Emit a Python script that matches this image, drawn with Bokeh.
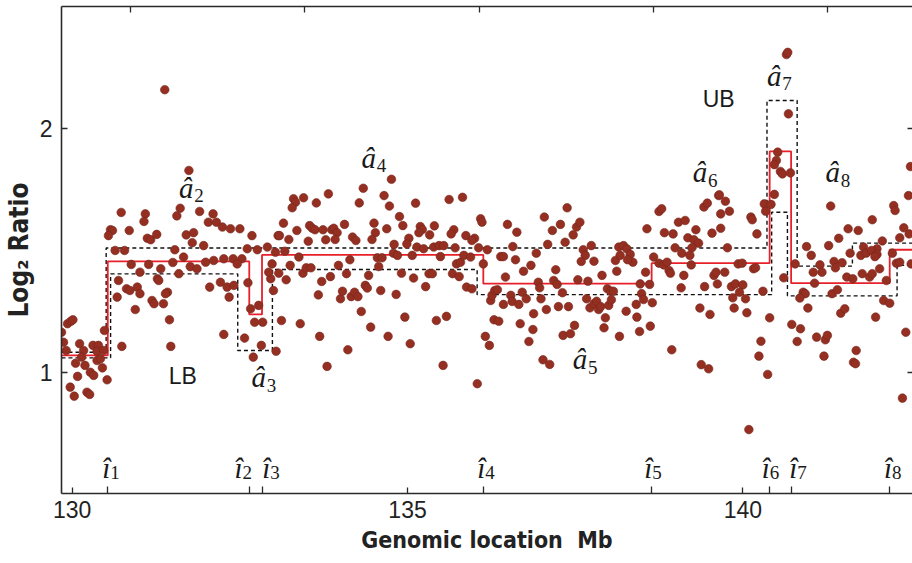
from bokeh.plotting import figure
from bokeh.models import Range1d, FixedTicker, LinearAxis, ColumnDataSource
from bokeh.core.properties import value
from bokeh.embed import file_html
from bokeh.resources import INLINE

# ---------------- data ----------------
pos_mb = [
    # 130-133 Mb, upper part
    131.38, 131.74, 130.73, 131.09, 131.07, 131.61, 131.56, 131.90, 132.10, 132.03,
    132.15, 132.24, 132.36, 132.50, 132.68, 133.07, 130.57, 130.60, 130.54, 130.85,
    131.12, 131.17, 131.26, 131.70, 131.81, 131.79, 131.96, 132.61, 132.76, 132.91,
    # 130-133 Mb, middle / lower part
    130.64, 130.78, 131.53, 130.88, 131.14, 131.50, 131.66, 131.76, 131.86, 131.99,
    132.11, 132.26, 132.40, 132.53, 132.46, 131.01, 131.32, 131.59, 130.69, 130.81,
    130.86, 130.97, 131.01, 130.67, 130.94, 131.27, 131.29, 131.42, 131.39, 131.19,
    131.22, 131.36, 132.05, 132.21, 132.31, 132.41, 132.34, 132.62, 131.45, 132.26,
    130.74, 131.47, 132.66, 132.78, 132.72, 132.84, 132.57, 132.82, 132.70, 133.04,
    132.96, 132.93, 132.98, 133.08, 133.12,
    # first segment
    129.84, 129.87, 129.93, 129.98, 130.01, 129.91, 130.05, 130.08, 129.97, 130.03,
    130.11, 130.17, 130.14, 130.19, 130.27, 130.32, 130.22, 130.26, 130.31, 130.39,
    130.37, 130.37, 130.45, 130.42, 130.48, 130.52, 130.47,
    # 133-136 Mb, upper part
    133.82, 133.30, 133.33, 133.28, 133.45, 133.64, 134.34, 134.28, 134.76, 134.65,
    134.73, 135.12, 134.88, 134.93, 133.15, 133.09, 133.23, 133.35, 133.52, 133.54,
    133.58, 133.62, 133.74, 133.78, 133.87, 133.90, 133.95, 133.92, 134.06, 134.18,
    134.23, 134.50, 134.52, 134.47, 134.69, 134.80, 135.02, 134.99, 135.19, 135.22,
    135.17, 135.33, 135.40, 135.62, 135.82, 135.69, 135.65, 135.87, 136.00, 135.96,
    136.09, 136.11, 135.14, 135.24, 135.39, 135.47, 135.54, 135.71, 136.06, 136.19,
    # 133-136.5 Mb, middle / lower part
    133.03, 133.17, 133.00, 133.19, 133.25, 133.38, 133.44, 133.49, 133.56, 133.40,
    133.67, 133.69, 133.72, 133.80, 133.85, 133.97, 134.00, 134.03, 134.09, 134.11,
    134.14, 134.16, 134.21, 134.26, 134.31, 134.37, 134.40, 134.42, 134.45, 134.55,
    134.62, 134.57, 134.60, 134.71, 134.79, 134.85, 134.83, 134.91, 134.96, 135.07,
    135.09, 135.04, 135.27, 135.32, 135.37, 135.43, 135.53, 135.58, 135.49, 135.67,
    135.73, 135.79, 135.77, 135.84, 135.94, 135.88, 135.96, 136.04, 136.16, 136.22,
    136.13, 136.24, 136.26, 136.30, 136.34, 136.29, 136.36, 136.39,
    # 136.5-139.7 Mb, upper part
    136.49, 136.63, 136.57, 137.04, 137.16, 137.28, 137.38, 137.52, 137.57, 137.47,
    137.35, 137.09, 137.74, 138.15, 138.22, 138.57, 138.75, 138.79, 138.83, 138.96,
    139.04, 139.14, 139.30, 139.18, 139.27, 139.34, 139.42, 139.47, 139.64, 139.54,
    139.67, 139.67, 138.99, 139.24,
    # 136.4-139.7 Mb, middle / lower part
    136.43, 136.61, 136.73, 136.84, 136.92, 137.21, 137.62, 137.65, 137.59, 137.78,
    138.10, 138.12, 138.17, 138.27, 138.32, 138.36, 138.28, 137.90, 137.54, 137.69,
    136.95, 136.97, 137.18, 137.23, 136.46, 136.43, 136.54, 136.56, 136.66, 136.71,
    136.77, 136.88, 136.99, 137.07, 137.31, 137.25, 137.40, 137.67, 137.72, 137.78,
    137.82, 137.85, 137.88, 137.98, 138.03, 138.07, 138.00, 138.04, 136.68, 136.87,
    136.81, 137.02, 137.12, 137.32, 137.43, 137.49, 137.95, 137.93, 138.16, 138.26,
    138.41, 138.42, 138.46, 138.49, 138.52, 138.47, 138.55, 138.61, 138.65, 138.62,
    138.67, 138.75, 138.82, 138.87, 138.90, 138.92, 138.94, 139.12, 139.08, 139.23,
    139.09, 139.21, 139.36, 139.51, 139.38, 139.49, 139.43, 139.57, 139.60, 139.62,
    # 139.6-142.5 Mb, upper part
    140.65, 140.67, 140.68, 140.52, 140.50, 140.47, 140.56, 140.59, 140.71, 140.47,
    140.32, 140.34, 140.42, 140.12, 140.14, 140.21, 139.65, 139.74, 139.80, 141.31,
    141.57, 141.72, 141.93, 142.25, 142.27, 142.40, 142.48, 142.47, 142.50, 142.34,
    141.43, 141.28, 140.95, 141.80, 142.08, 142.00,
    # 139.7-142.5 Mb, middle / lower part
    139.77, 139.93, 139.99, 140.16, 140.19, 139.73, 139.83, 139.89, 140.00, 139.95,
    139.85, 140.04, 140.30, 139.87, 140.06, 140.40, 140.27, 140.24, 140.37, 140.09,
    140.61, 140.73, 140.86, 140.81, 140.78, 140.90, 140.93, 140.85, 140.97, 141.02,
    141.07, 141.05, 141.15, 141.18, 141.10, 141.23, 141.26, 141.21, 141.36, 141.38,
    141.48, 141.33, 141.41, 141.46, 141.52, 141.55, 141.64, 141.60, 141.76, 141.84,
    141.92, 141.78, 141.89, 141.93, 141.98, 141.69, 141.65, 141.68, 142.00, 141.97,
    142.04, 142.14, 142.10, 142.19, 142.23, 142.29, 142.34, 142.43, 142.38, 142.51,
]

log2_ratio = [
    2.159, 1.828, 1.656, 1.650, 1.619, 1.673, 1.642, 1.660, 1.650, 1.616,
    1.616, 1.596, 1.589, 1.589, 1.561, 1.561, 1.585, 1.582, 1.561, 1.582,
    1.550, 1.544, 1.566, 1.564, 1.573, 1.532, 1.520, 1.507, 1.503, 1.514,
    1.500, 1.500, 1.503, 1.443, 1.443, 1.451, 1.473, 1.434, 1.425, 1.452,
    1.459, 1.466, 1.466, 1.466, 1.445, 1.411, 1.425, 1.405, 1.377, 1.343,
    1.336, 1.350, 1.323, 1.309, 1.258, 1.384, 1.377, 1.329, 1.323, 1.295,
    1.282, 1.282, 1.350, 1.370, 1.350, 1.357, 1.309, 1.368, 1.216, 1.156,
    1.107, 1.107, 1.261, 1.275, 1.206, 1.206, 1.141, 1.111, 1.063, 1.087,
    1.384, 1.411, 1.445, 1.407, 1.213,
    1.165, 1.124, 1.200, 1.210, 1.216, 1.090, 1.038, 0.984, 0.940, 0.903,
    1.118, 1.090, 1.063, 1.029, 1.001, 0.988, 0.919, 0.910, 1.111, 1.111,
    1.087, 1.049, 1.019, 1.056, 1.172, 0.970, 1.090,
    1.732, 1.712, 1.698, 1.675, 1.716, 1.695, 1.755, 1.695, 1.792, 1.725,
    1.682, 1.694, 1.639, 1.602, 1.612, 1.561, 1.545, 1.582, 1.538, 1.602,
    1.591, 1.585, 1.585, 1.544, 1.585, 1.591, 1.573, 1.545, 1.607, 1.555,
    1.541, 1.612, 1.573, 1.545, 1.589, 1.525, 1.550, 1.527, 1.598, 1.586,
    1.573, 1.564, 1.601, 1.709, 1.718, 1.585, 1.568, 1.561, 1.550, 1.541,
    1.630, 1.616, 1.514, 1.507, 1.514, 1.520, 1.520, 1.511, 1.511, 1.503,
    1.493, 1.497, 1.336, 1.380, 1.439, 1.473, 1.407, 1.429, 1.429, 1.200,
    1.318, 1.148, 1.373, 1.025, 1.393, 1.439, 1.302, 1.333, 1.405, 1.093,
    1.462, 1.311, 1.329, 1.311, 1.250, 1.357, 1.346, 1.398, 1.186, 1.470,
    1.470, 1.434, 1.336, 1.148, 1.489, 1.480, 1.320, 1.407, 1.227, 1.480,
    1.387, 1.118, 1.352, 1.405, 1.405, 1.213, 1.029, 1.230, 1.475, 1.405,
    1.445, 1.452, 1.393, 1.480, 1.473, 1.350, 1.343, 0.954, 1.148, 1.111,
    1.445, 1.295, 1.316, 1.336, 1.339, 1.216, 1.210, 1.475,
    1.607, 1.575, 1.516, 1.637, 1.582, 1.607, 1.675, 1.596, 1.616, 1.564,
    1.534, 1.525, 1.520, 1.514, 1.520, 1.589, 1.660, 1.671, 1.573, 1.568,
    1.616, 1.623, 1.585, 1.552, 1.544, 1.530, 1.678, 1.694, 1.725, 1.571,
    1.650, 1.591, 1.511, 1.511,
    1.475, 1.462, 1.415, 1.439, 1.489, 1.421, 1.503, 1.480, 1.455, 1.456,
    1.459, 1.415, 1.480, 1.507, 1.484, 1.452, 1.462, 1.398, 1.380, 1.374,
    1.370, 1.347, 1.377, 1.361, 1.391, 1.279, 1.316, 1.291, 1.279, 1.329,
    1.302, 1.241, 1.302, 1.258, 1.327, 1.270, 1.270, 1.302, 1.265, 1.282,
    1.292, 1.258, 1.270, 1.343, 1.333, 1.333, 1.275, 1.298, 1.200, 1.176,
    1.127, 1.052, 1.033, 1.152, 1.159, 1.193, 1.224, 1.183, 1.148, 1.251,
    1.279, 1.227, 1.168, 1.323, 1.299, 1.363, 1.411, 1.361, 1.286, 1.190,
    1.473, 1.448, 1.441, 1.452, 1.418, 1.407, 1.093, 1.398, 1.347, 1.441,
    1.489, 1.480, 1.264, 1.238, 1.032, 1.015, 1.352, 1.398, 1.411, 1.363,
    2.303, 2.312, 2.060, 1.903, 1.869, 1.852, 1.824, 1.814, 1.818, 1.730,
    1.691, 1.661, 1.689, 1.637, 1.626, 1.568, 1.728, 1.702, 1.661, 1.682,
    1.589, 1.582, 1.626, 1.684, 1.664, 1.593, 1.568, 1.725, 1.844, 1.552,
    1.550, 1.520, 1.516, 1.514, 1.539, 1.507,
    1.511, 1.445, 1.448, 1.425, 1.429, 1.411, 1.352, 1.363, 1.359, 1.329,
    1.306, 1.302, 1.333, 1.264, 1.245, 1.224, 1.128, 1.067, 0.992, 0.766,
    1.388, 1.197, 1.179, 1.127, 1.445, 1.329, 1.323, 1.305, 1.264, 1.480,
    1.366, 1.411, 1.441, 1.411, 1.145, 1.134, 1.152, 1.067, 1.455, 1.429,
    1.450, 1.323, 1.339, 1.243, 1.261, 1.391, 1.384, 1.489, 1.480, 1.489,
    1.500, 1.405, 1.391, 1.405, 1.227, 1.090, 1.042, 1.036, 1.484, 1.475,
    1.425, 1.377, 1.295, 1.284, 1.489, 1.448, 1.452, 1.165, 0.895, 1.445,
]

# estimated change points (Mb) and segment levels
change_points = [130.53, 132.64, 132.83, 136.13, 138.64, 140.40, 140.72, 142.19]
est_levels = [1.070, 1.455, 1.238, 1.482, 1.364, 1.448, 1.906, 1.366, 1.503]
# upper / lower confidence bounds (step functions)
ub_breaks = [130.506, 140.36, 140.81, 141.634]
ub_levels = [1.083, 1.510, 2.115, 1.436, 1.530]
lb_breaks = [130.572, 132.468, 132.985, 136.038, 140.43, 140.665, 142.30]
lb_levels = [1.060, 1.404, 1.090, 1.422, 1.319, 1.657, 1.314, 1.439]

x_ticks = [130, 135, 140]
y_ticks = [1, 2]
top_ticks = [130.87, 133.46, 136.07, 138.67, 141.26]

# segment-level labels a_k (hat) and change-point labels i_k (hat)
a_index = ["2", "3", "4", "5", "6", "7", "8"]
a_x = [131.70, 132.78, 134.42, 137.57, 139.36, 140.47, 141.34]
a_y = [1.725, 0.947, 1.848, 1.022, 1.787, 2.183, 1.787]
i_index = ["1", "2", "3", "4", "5", "6", "7", "8"]
i_x = [130.507, 132.478, 132.893, 136.099, 138.589, 140.341, 140.752, 142.164]
i_y = [0.575] * 8
bound_text = ["LB", "UB"]
bound_x = [131.65, 139.64]
bound_y = [0.951, 2.090]

X_LO, X_HI = 129.84, 142.53
Y_LO, Y_HI = 0.504, 2.5

# ---------------- figure ----------------
p = figure(width=912, height=563, output_backend="svg", toolbar_location=None,
           x_range=Range1d(X_LO, X_HI), y_range=Range1d(Y_LO, Y_HI),
           x_axis_type=None, y_axis_type=None,
           min_border_left=61, min_border_right=0, min_border_top=6,
           min_border_bottom=70)
p.outline_line_color = None
p.background_fill_color = "white"
p.border_fill_color = "white"

AXC = "#2a2a2a"
label_font = "'Liberation Sans Narrow', 'DejaVu Sans Condensed', sans-serif"

xaxis = LinearAxis(ticker=FixedTicker(ticks=x_ticks, minor_ticks=change_points),
                   axis_label="Genomic location\u00a0 Mb")
xaxis.major_tick_in = 6
xaxis.major_tick_out = 0
xaxis.minor_tick_in = 7
xaxis.minor_tick_out = 0
xaxis.major_label_standoff = 7
xaxis.axis_label_standoff = 6
xaxis.axis_label_text_font_size = "23px"
p.add_layout(xaxis, "below")

yaxis = LinearAxis(ticker=FixedTicker(ticks=y_ticks), axis_label="Log\u2082 Ratio")
yaxis.major_tick_in = 6
yaxis.major_tick_out = 0
yaxis.major_label_standoff = 9
yaxis.axis_label_standoff = 3
yaxis.major_label_orientation = "horizontal"
yaxis.axis_label_text_font_size = "26px"
p.add_layout(yaxis, "left")

# top and right frame ticks (no labels): drawn as minor ticks only
top = LinearAxis(ticker=FixedTicker(ticks=[], minor_ticks=top_ticks))
top.minor_tick_in = 6
top.minor_tick_out = 0
top.major_label_standoff = 0
p.add_layout(top, "above")

right = LinearAxis(ticker=FixedTicker(ticks=[], minor_ticks=y_ticks))
right.minor_tick_in = 5
right.minor_tick_out = 0
right.axis_line_color = None
right.major_label_standoff = 0
p.add_layout(right, "right")

for ax in (xaxis, yaxis, top, right):
    ax.major_tick_line_color = AXC
    ax.minor_tick_line_color = AXC
    ax.major_tick_line_width = 1.3
    ax.minor_tick_line_width = 1.3
yaxis.minor_tick_line_color = None
for ax in (xaxis, yaxis, top):
    ax.axis_line_color = AXC
    ax.axis_line_width = 1.6
for ax in (xaxis, yaxis):
    ax.major_label_text_font = "Liberation Sans"
    ax.major_label_text_font_size = "23px"
    ax.major_label_text_color = "#222222"
    ax.axis_label_text_font = label_font
    ax.axis_label_text_font_style = "bold"
    ax.axis_label_text_color = "#222222"

# step curves
def step_xy(breaks, levels):
    xs = [X_LO] + list(breaks) + [X_HI]
    ys = list(levels) + [levels[-1]]
    return xs, ys

ubx, uby = step_xy(ub_breaks, ub_levels)
lbx, lby = step_xy(lb_breaks, lb_levels)
esx, esy = step_xy(change_points, est_levels)

p.step(ubx, uby, mode="after", line_color="#111111", line_width=1.4, line_dash="4 3")
p.step(lbx, lby, mode="after", line_color="#111111", line_width=1.4, line_dash="4 3")
p.step(esx, esy, mode="after", line_color="#e8202a", line_width=1.8)

# data points
pts = ColumnDataSource(dict(x=pos_mb, y=log2_ratio))
p.scatter("x", "y", source=pts, size=8.6, fill_color="#952f22",
          line_color="#75271d", line_width=0.6)

# labels (text placed at its baseline; offsets in screen pixels)
LIFT = -8
serif = value("'Liberation Serif', 'Times New Roman', serif")
a_src = ColumnDataSource(dict(x=a_x, y=a_y, t=["\u00e2"] * len(a_x), s=a_index))
i_src = ColumnDataSource(dict(x=i_x, y=i_y, t=["\u00ee"] * len(i_x), s=i_index))
for src in (a_src, i_src):
    p.text("x", "y", text="t", source=src, text_font=serif, text_font_style="italic",
           text_font_size="29px", text_align="center", text_baseline="alphabetic",
           y_offset=LIFT, text_color="#1a1a1a")
p.text("x", "y", text="s", source=a_src, text_font=serif, text_font_size="19px",
       text_align="left", text_baseline="alphabetic", x_offset=8, y_offset=LIFT + 8,
       text_color="#1a1a1a")
p.text("x", "y", text="s", source=i_src, text_font=serif, text_font_size="19px",
       text_align="left", text_baseline="alphabetic", x_offset=4, y_offset=LIFT + 4,
       text_color="#1a1a1a")
b_src = ColumnDataSource(dict(x=bound_x, y=bound_y, t=bound_text))
p.text("x", "y", text="t", source=b_src, text_font=value("Liberation Sans"),
       text_font_size="23px", text_align="center", text_baseline="alphabetic",
       y_offset=LIFT, text_color="#1a1a1a")

open("out.html", "w").write(file_html(p, INLINE))
